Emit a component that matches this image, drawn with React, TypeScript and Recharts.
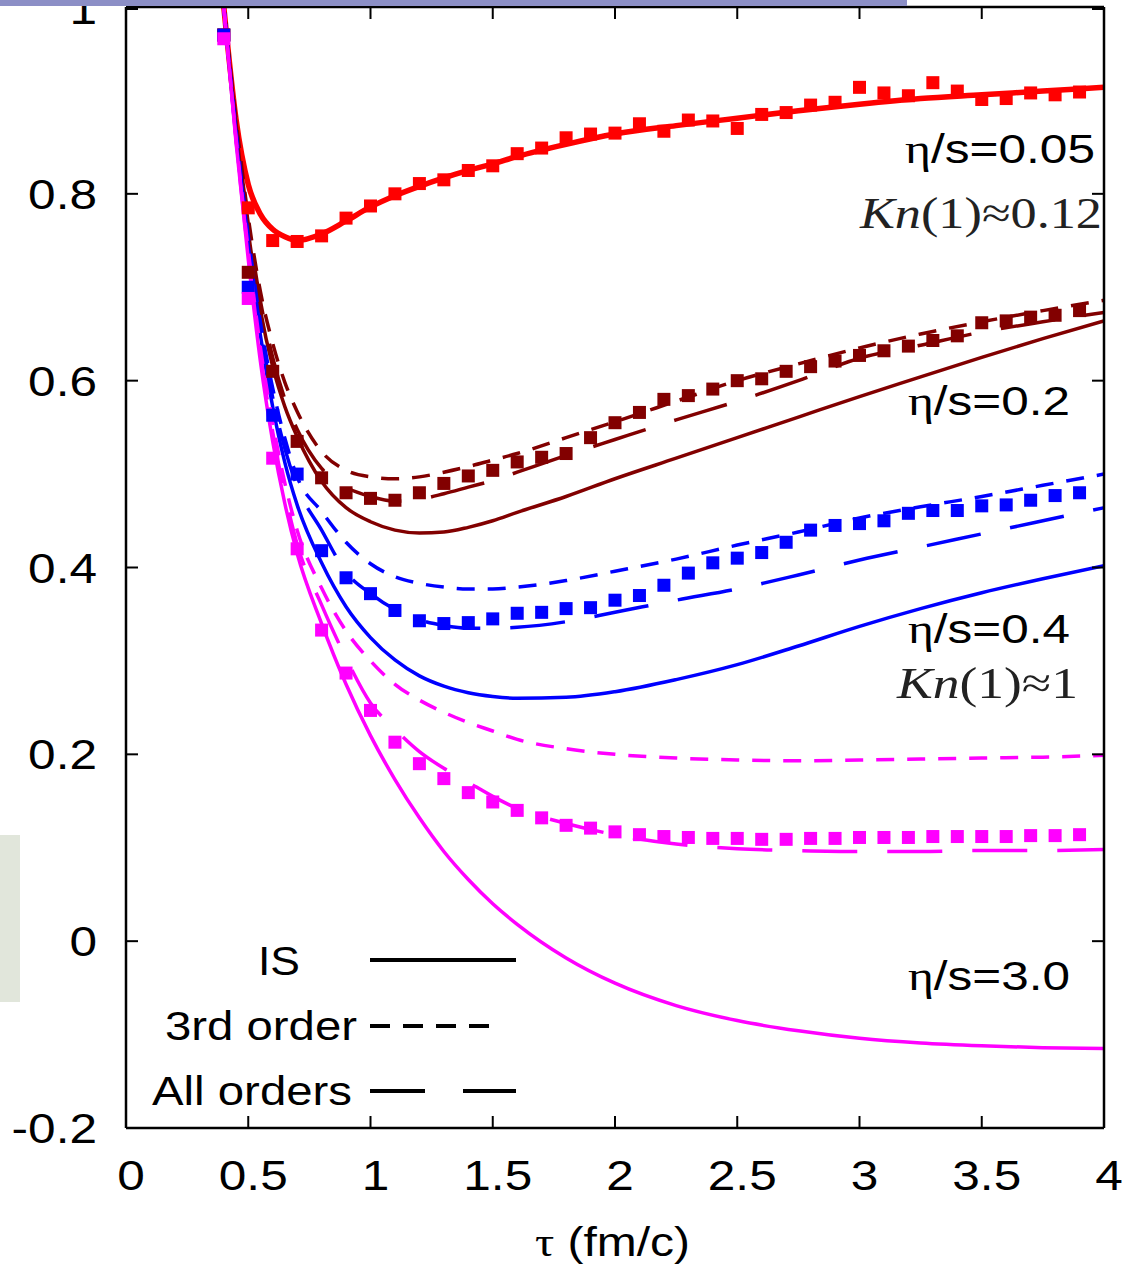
import React from 'react';
import { ComposedChart, Line, Scatter, XAxis, YAxis } from 'recharts';

// tau grid for the hydro curves
const TAU = [0.4, 0.45, 0.5, 0.55, 0.6, 0.65, 0.7, 0.8, 0.9, 1.0, 1.1, 1.2, 1.3, 1.4, 1.5, 1.6, 1.8, 2.0, 2.25, 2.5, 2.75, 3.0, 3.25, 3.5, 3.75, 4.0];

const red_all = [1.0, 0.88, 0.81, 0.778, 0.762, 0.754, 0.75, 0.757, 0.771, 0.786, 0.798, 0.808, 0.817, 0.825, 0.832, 0.84, 0.853, 0.864, 0.873, 0.881, 0.889, 0.896, 0.902, 0.906, 0.91, 0.914];

const dred_is = [1.0, 0.87, 0.76, 0.675, 0.615, 0.572, 0.54, 0.492, 0.464, 0.449, 0.44, 0.437, 0.438, 0.443, 0.45, 0.459, 0.476, 0.495, 0.517, 0.539, 0.561, 0.583, 0.604, 0.625, 0.645, 0.664];
const dred_3rd = [1.0, 0.88, 0.775, 0.695, 0.64, 0.598, 0.567, 0.524, 0.504, 0.497, 0.495, 0.497, 0.502, 0.508, 0.515, 0.522, 0.539, 0.556, 0.578, 0.6, 0.618, 0.635, 0.65, 0.663, 0.675, 0.686];
const dred_all = [1.0, 0.875, 0.768, 0.685, 0.625, 0.58, 0.548, 0.506, 0.486, 0.476, 0.471, 0.473, 0.479, 0.486, 0.493, 0.502, 0.52, 0.537, 0.558, 0.578, 0.6, 0.624, 0.638, 0.652, 0.663, 0.673];

const blue_is = [1.0, 0.86, 0.745, 0.648, 0.572, 0.512, 0.467, 0.405, 0.358, 0.325, 0.301, 0.284, 0.273, 0.266, 0.262, 0.26, 0.261, 0.267, 0.28, 0.296, 0.316, 0.337, 0.356, 0.373, 0.388, 0.402];
const blue_3rd = [1.0, 0.868, 0.755, 0.662, 0.592, 0.538, 0.497, 0.46, 0.427, 0.404, 0.39, 0.383, 0.379, 0.377, 0.377, 0.379, 0.386, 0.396, 0.409, 0.424, 0.438, 0.453, 0.465, 0.476, 0.488, 0.5];
const blue_all = [1.0, 0.865, 0.75, 0.655, 0.582, 0.527, 0.487, 0.44, 0.395, 0.372, 0.355, 0.344, 0.338, 0.335, 0.335, 0.336, 0.342, 0.352, 0.365, 0.377, 0.392, 0.408, 0.422, 0.436, 0.45, 0.464];

const mag_is = [1.0, 0.855, 0.73, 0.62, 0.535, 0.468, 0.415, 0.34, 0.275, 0.22, 0.173, 0.132, 0.096, 0.066, 0.04, 0.018, -0.018, -0.045, -0.069, -0.085, -0.096, -0.104, -0.109, -0.112, -0.114, -0.115];
const mag_3rd = [1.0, 0.86, 0.74, 0.635, 0.555, 0.49, 0.44, 0.378, 0.332, 0.3, 0.275, 0.258, 0.245, 0.234, 0.225, 0.216, 0.206, 0.2, 0.196, 0.194, 0.193, 0.194, 0.195, 0.196, 0.197, 0.199];
const mag_all = [1.0, 0.858, 0.735, 0.628, 0.545, 0.478, 0.425, 0.36, 0.303, 0.255, 0.227, 0.203, 0.185, 0.17, 0.155, 0.142, 0.126, 0.114, 0.104, 0.099, 0.097, 0.096, 0.096, 0.097, 0.097, 0.098];

// tau of the square markers (transport results)
const PT_TAU = [0.4, 0.5, 0.6, 0.7, 0.8, 0.9, 1.0, 1.1, 1.2, 1.3, 1.4, 1.5, 1.6, 1.7, 1.8, 1.9, 2.0, 2.1, 2.2, 2.3, 2.4, 2.5, 2.6, 2.7, 2.8, 2.9, 3.0, 3.1, 3.2, 3.3, 3.4, 3.5, 3.6, 3.7, 3.8, 3.9];

const red_pts = [0.97, 0.785, 0.75, 0.749, 0.755, 0.774, 0.787, 0.8, 0.811, 0.815, 0.825, 0.83, 0.843, 0.849, 0.86, 0.864, 0.865, 0.875, 0.867, 0.879, 0.878, 0.87, 0.885, 0.887, 0.895, 0.898, 0.914, 0.908, 0.905, 0.919, 0.91, 0.901, 0.902, 0.908, 0.906, 0.909];
const dred_pts = [0.97, 0.716, 0.61, 0.535, 0.496, 0.48, 0.474, 0.472, 0.48, 0.49, 0.498, 0.504, 0.513, 0.518, 0.522, 0.539, 0.555, 0.566, 0.58, 0.584, 0.591, 0.6, 0.602, 0.61, 0.615, 0.621, 0.627, 0.632, 0.637, 0.643, 0.648, 0.662, 0.664, 0.668, 0.67, 0.675];
const blue_pts = [0.97, 0.7, 0.563, 0.5, 0.418, 0.389, 0.372, 0.354, 0.343, 0.34, 0.341, 0.345, 0.351, 0.352, 0.356, 0.357, 0.365, 0.37, 0.381, 0.394, 0.405, 0.41, 0.416, 0.427, 0.44, 0.445, 0.447, 0.45, 0.458, 0.461, 0.461, 0.466, 0.467, 0.472, 0.477, 0.48];
const mag_pts = [0.966, 0.688, 0.517, 0.42, 0.333, 0.287, 0.247, 0.213, 0.19, 0.174, 0.159, 0.149, 0.14, 0.132, 0.124, 0.121, 0.117, 0.114, 0.112, 0.111, 0.11, 0.11, 0.109, 0.109, 0.11, 0.11, 0.111, 0.111, 0.111, 0.112, 0.112, 0.112, 0.112, 0.113, 0.113, 0.114];

const X_TICKS = [0, 0.5, 1, 1.5, 2, 2.5, 3, 3.5, 4];
const Y_TICKS = [-0.2, 0, 0.2, 0.4, 0.6, 0.8, 1];

const W = 1137;
const H = 1266;
const SANS = '"Liberation Sans", Arial, Helvetica, sans-serif';
const SERIF = '"Liberation Serif", "Times New Roman", serif';

const RED = '#ff0000';
const DRED = '#820000';
const BLUE = '#0000ff';
const MAG = '#ff00ff';

const curve = (vals: number[]) => TAU.map((t, i) => ({ t, v: vals[i] }));
const pts = (vals: number[]) => PT_TAU.map((t, i) => ({ t, v: vals[i] }));

const fmt = (v: number) => String(Math.round(v * 10) / 10);

const square = (color: string) => (p: any) => (
  <rect x={p.cx - 6.5} y={p.cy - 6.5} width={13} height={13} fill={color} />
);

const BottomTick = ({ x, y, payload }: any) => (
  <g>
    <line x1={x} y1={y} x2={x} y2={y - 12} stroke="#000" strokeWidth={2} />
    <text
      transform={`translate(${x + 5},${y + 62}) scale(1.18,1)`}
      textAnchor="middle"
      fontFamily={SANS}
      fontSize={42}
      fill="#000"
    >
      {fmt(payload.value)}
    </text>
  </g>
);

const TopTick = ({ x, y }: any) => <line x1={x} y1={y} x2={x} y2={y + 12} stroke="#000" strokeWidth={2} />;

const LeftTick = ({ x, y, payload }: any) => (
  <g>
    <line x1={x} y1={y} x2={x + 12} y2={y} stroke="#000" strokeWidth={2} />
    <text
      transform={`translate(${x - 29},${y + 15}) scale(1.18,1)`}
      textAnchor="end"
      fontFamily={SANS}
      fontSize={42}
      fill="#000"
    >
      {fmt(payload.value)}
    </text>
  </g>
);

const RightTick = ({ x, y }: any) => <line x1={x} y1={y} x2={x - 12} y2={y} stroke="#000" strokeWidth={2} />;

const axisLine = { stroke: '#000', strokeWidth: 2.5 };

export default function App() {
  const lineProps = { dataKey: 'v', dot: false, activeDot: false, isAnimationActive: false, type: 'monotone' as const };
  const shortDash = '18 13';
  const longDash = '55 30';

  return (
    <div style={{ position: 'absolute', left: 0, top: 0, width: W, height: H, background: '#fff' }}>
      <ComposedChart width={W} height={H} margin={{ top: 6, right: 32, bottom: 0, left: 0 }}>
        <XAxis
          xAxisId="b"
          dataKey="t"
          type="number"
          domain={[0, 4]}
          ticks={X_TICKS}
          allowDataOverflow
          height={138}
          tickSize={0}
          tickMargin={0}
          tickLine={false}
          axisLine={axisLine}
          tick={<BottomTick />}
        />
        <XAxis
          xAxisId="top"
          orientation="top"
          dataKey="t"
          type="number"
          domain={[0, 4]}
          ticks={X_TICKS}
          allowDataOverflow
          height={1}
          tickSize={0}
          tickMargin={0}
          tickLine={false}
          axisLine={axisLine}
          tick={<TopTick />}
        />
        <YAxis
          yAxisId="l"
          type="number"
          domain={[-0.2, 1]}
          ticks={Y_TICKS}
          allowDataOverflow
          width={126}
          tickSize={0}
          tickMargin={0}
          tickLine={false}
          axisLine={axisLine}
          tick={<LeftTick />}
        />
        <YAxis
          yAxisId="r"
          orientation="right"
          type="number"
          domain={[-0.2, 1]}
          ticks={Y_TICKS}
          allowDataOverflow
          width={1}
          tickSize={0}
          tickMargin={0}
          tickLine={false}
          axisLine={axisLine}
          tick={<RightTick />}
        />

        <Line {...lineProps} xAxisId="b" yAxisId="l" data={curve(red_all)} stroke={RED} strokeWidth={5.5} />

        <Line {...lineProps} xAxisId="b" yAxisId="l" data={curve(dred_is)} stroke={DRED} strokeWidth={3.5} />
        <Line {...lineProps} xAxisId="b" yAxisId="l" data={curve(dred_3rd)} stroke={DRED} strokeWidth={3.5} strokeDasharray={shortDash} />
        <Line {...lineProps} xAxisId="b" yAxisId="l" data={curve(dred_all)} stroke={DRED} strokeWidth={3.5} strokeDasharray={longDash} />

        <Line {...lineProps} xAxisId="b" yAxisId="l" data={curve(blue_is)} stroke={BLUE} strokeWidth={3.5} />
        <Line {...lineProps} xAxisId="b" yAxisId="l" data={curve(blue_3rd)} stroke={BLUE} strokeWidth={3.5} strokeDasharray={shortDash} />
        <Line {...lineProps} xAxisId="b" yAxisId="l" data={curve(blue_all)} stroke={BLUE} strokeWidth={3.5} strokeDasharray={longDash} />

        <Line {...lineProps} xAxisId="b" yAxisId="l" data={curve(mag_is)} stroke={MAG} strokeWidth={3.5} />
        <Line {...lineProps} xAxisId="b" yAxisId="l" data={curve(mag_3rd)} stroke={MAG} strokeWidth={3.5} strokeDasharray={shortDash} />
        <Line {...lineProps} xAxisId="b" yAxisId="l" data={curve(mag_all)} stroke={MAG} strokeWidth={3.5} strokeDasharray={longDash} />

        <Scatter xAxisId="b" yAxisId="l" data={pts(red_pts)} dataKey="v" fill={RED} shape={square(RED)} isAnimationActive={false} />
        <Scatter xAxisId="b" yAxisId="l" data={pts(dred_pts)} dataKey="v" fill={DRED} shape={square(DRED)} isAnimationActive={false} />
        <Scatter xAxisId="b" yAxisId="l" data={pts(blue_pts)} dataKey="v" fill={BLUE} shape={square(BLUE)} isAnimationActive={false} />
        {/* same domain as the left/bottom pair, so this also keeps the mirror axes drawn */}
        <Scatter xAxisId="top" yAxisId="r" data={pts(mag_pts)} dataKey="v" fill={MAG} shape={square(MAG)} isAnimationActive={false} />
      </ComposedChart>

      {/* annotations and key */}
      <svg width={W} height={H} style={{ position: 'absolute', left: 0, top: 0, pointerEvents: 'none' }}>
        <g fontFamily={SANS} fontSize={40} fill="#000">
          <text x={905} y={163} textLength={190} lengthAdjust="spacingAndGlyphs">
            <tspan fontFamily={SERIF}>η</tspan>/s=0.05
          </text>
          <text x={908} y={415} textLength={162} lengthAdjust="spacingAndGlyphs">
            <tspan fontFamily={SERIF}>η</tspan>/s=0.2
          </text>
          <text x={908} y={643} textLength={162} lengthAdjust="spacingAndGlyphs">
            <tspan fontFamily={SERIF}>η</tspan>/s=0.4
          </text>
          <text x={908} y={990} textLength={162} lengthAdjust="spacingAndGlyphs">
            <tspan fontFamily={SERIF}>η</tspan>/s=3.0
          </text>
        </g>
        <g fontFamily={SERIF} fontSize={44} fill="#222">
          <text x={860} y={228} textLength={242} lengthAdjust="spacingAndGlyphs">
            <tspan fontStyle="italic">Kn</tspan>(1)≈0.12
          </text>
          <text x={897} y={698} textLength={181} lengthAdjust="spacingAndGlyphs">
            <tspan fontStyle="italic">Kn</tspan>(1)≈1
          </text>
        </g>
        <text x={535} y={1256} textLength={155} lengthAdjust="spacingAndGlyphs" fontFamily={SANS} fontSize={40}>
          <tspan fontFamily={SERIF}>τ</tspan> (fm/c)
        </text>

        <g fontFamily={SANS} fontSize={40} fill="#000">
          <text x={258} y={975} textLength={42} lengthAdjust="spacingAndGlyphs">IS</text>
          <text x={165} y={1040} textLength={192} lengthAdjust="spacingAndGlyphs">3rd order</text>
          <text x={152} y={1105} textLength={200} lengthAdjust="spacingAndGlyphs">All orders</text>
        </g>
        <line x1={370} y1={960} x2={516} y2={960} stroke="#000" strokeWidth={4} />
        <line x1={370} y1={1026} x2={502} y2={1026} stroke="#000" strokeWidth={4} strokeDasharray="20 13" />
        <line x1={370} y1={1091} x2={516} y2={1091} stroke="#000" strokeWidth={4} strokeDasharray="55 38" />
      </svg>

      {/* slide remnants around the figure */}
      <div style={{ position: 'absolute', left: 0, top: 0, width: 907, height: 6, background: '#8c8fc6' }} />
      <div style={{ position: 'absolute', left: 0, top: 835, width: 20, height: 167, background: '#e1e6db' }} />
    </div>
  );
}
